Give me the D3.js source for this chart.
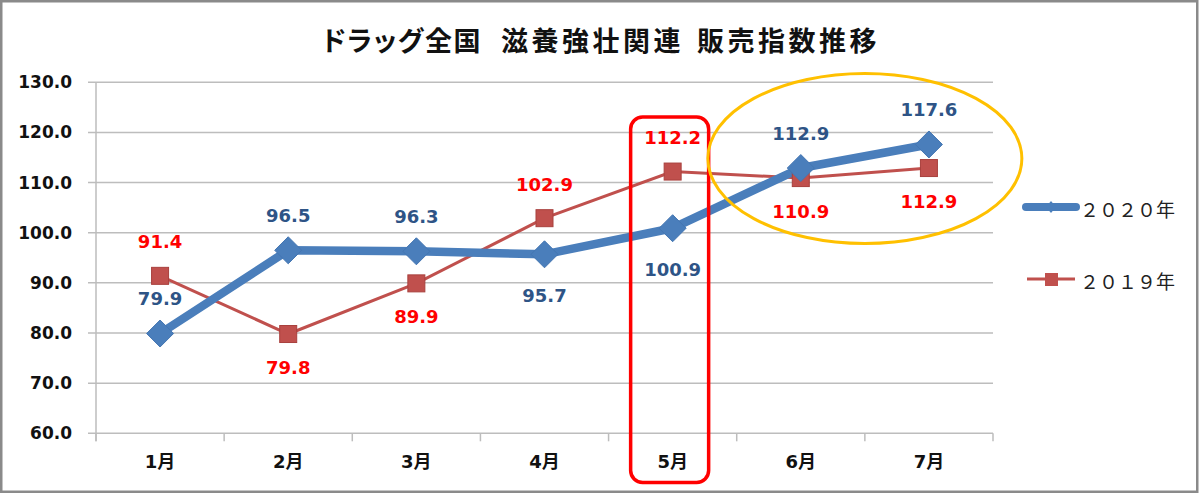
<!DOCTYPE html>
<html><head><meta charset="utf-8">
<script src="https://cdn.jsdelivr.net/npm/d3@7/dist/d3.min.js"></script>
<style>
html,body{margin:0;padding:0;background:#fff;}
svg{display:block;}
</style></head>
<body>
<svg id="chart" width="1200" height="494"></svg>
<script>
const categories = ["1月","2月","3月","4月","5月","6月","7月"];
const values2020 = [79.9, 96.5, 96.3, 95.7, 100.9, 112.9, 117.6];
const values2019 = [91.4, 79.8, 89.9, 102.9, 112.2, 110.9, 112.9];
const labelPos2020 = ["above","above","above","below","below","above","above"];
const labelPos2019 = ["above","below","below","above","above","below","below"];
const yTicks = [60, 70, 80, 90, 100, 110, 120, 130];
const seriesNames = ["２０２０年", "２０１９年"];
const titleParts = ["ドラッグ全国", "滋養強壮関連", "販売指数推移"];

const svg = d3.select("#chart");
const W = 1200, H = 494;
const m = {left: 96, right: 993, top: 82.3, bottom: 433.3};

const x = d3.scaleBand().domain(categories).range([m.left, m.right]);
const y = d3.scaleLinear().domain([60, 130]).range([m.bottom, m.top]);
const cx = c => x(c) + x.bandwidth() / 2;

const numFont = "'DejaVu Sans', 'Noto Sans CJK JP', sans-serif";
const cjkFont = "'Noto Sans CJK JP', sans-serif";

// outer frame
svg.append("rect").attr("x", 1.25).attr("y", 1.25).attr("width", W - 4).attr("height", H - 3.5)
  .attr("fill", "#fff").attr("stroke", "#8a8a8a").attr("stroke-width", 2.5);

// title
const title = svg.append("text").attr("x", 601).attr("y", 39)
  .attr("text-anchor", "middle").attr("dominant-baseline", "central")
  .style("font-family", cjkFont).style("font-weight", "bold").style("font-size", "27px")
  .attr("fill", "#111");
title.append("tspan").style("font-feature-settings", "'palt'").style("letter-spacing", "1.5px").text(titleParts[0]);
title.append("tspan").attr("dx", 19).style("letter-spacing", "3.5px").text(titleParts[1]);
title.append("tspan").attr("dx", 13).style("letter-spacing", "3.5px").text(titleParts[2]);

// gridlines
const gGrid = svg.append("g");
gGrid.selectAll("line").data(yTicks).join("line")
  .attr("x1", m.left - 8).attr("x2", m.right)
  .attr("y1", d => y(d)).attr("y2", d => y(d))
  .attr("stroke", "#bdbdbd").attr("stroke-width", 1.5);

// y axis
const yAxis = d3.axisLeft(y).tickValues(yTicks).tickFormat(d3.format(".1f")).tickSize(0).tickPadding(24);
const gy = svg.append("g").attr("transform", `translate(${m.left},0)`).call(yAxis);
gy.select(".domain").remove();
gy.selectAll("text").style("font-family", numFont).style("font-weight", "bold")
  .style("font-size", "17px").attr("fill", "#111");
svg.append("line").attr("x1", m.left).attr("x2", m.left).attr("y1", m.top).attr("y2", m.bottom + 8)
  .attr("stroke", "#bdbdbd").attr("stroke-width", 1.5);

// x axis
const xAxis = d3.axisBottom(x).tickSize(0).tickPadding(22);
const gx = svg.append("g").attr("transform", `translate(0,${m.bottom})`).call(xAxis);
gx.select(".domain").remove();
gx.selectAll("text").style("font-family", numFont).style("font-weight", "bold")
  .style("font-size", "18px").attr("fill", "#111");
const bounds = categories.map(c => x(c)).concat([m.right]);
svg.append("g").selectAll("line").data(bounds).join("line")
  .attr("x1", d => d).attr("x2", d => d).attr("y1", m.bottom).attr("y2", m.bottom + 8)
  .attr("stroke", "#bdbdbd").attr("stroke-width", 1.5);

const blue = "#4a7ebb", blueLabel = "#2e5486";
const red = "#c0504d", redLabel = "#ff0000";

const line = d3.line().x((d, i) => cx(categories[i])).y(d => y(d));

// 2019 series
svg.append("path").datum(values2019).attr("d", line)
  .attr("fill", "none").attr("stroke", red).attr("stroke-width", 3);
// 2020 series
svg.append("path").datum(values2020).attr("d", line)
  .attr("fill", "none").attr("stroke", blue).attr("stroke-width", 8.5).attr("stroke-linejoin", "round");

const sq = 17;
svg.append("g").selectAll("rect").data(values2019).join("rect")
  .attr("x", (d, i) => cx(categories[i]) - sq / 2).attr("y", d => y(d) - sq / 2)
  .attr("width", sq).attr("height", sq)
  .attr("fill", red).attr("stroke", "#a8403d").attr("stroke-width", 1);

const dm = 13.5;
svg.append("g").selectAll("path").data(values2020).join("path")
  .attr("d", (d, i) => {
    const px = cx(categories[i]), py = y(d);
    return `M${px},${py - dm}L${px + dm},${py}L${px},${py + dm}L${px - dm},${py}Z`;
  })
  .attr("fill", blue).attr("stroke", "#4476b2").attr("stroke-width", 1);

// data labels
svg.append("g").selectAll("text").data(values2019).join("text")
  .attr("x", (d, i) => cx(categories[i]))
  .attr("y", (d, i) => y(d) + (labelPos2019[i] === "above" ? -34 : 33))
  .attr("text-anchor", "middle").attr("dominant-baseline", "central")
  .style("font-family", numFont).style("font-weight", "bold").style("font-size", "18px")
  .attr("fill", redLabel).text(d => d.toFixed(1));

svg.append("g").selectAll("text").data(values2020).join("text")
  .attr("x", (d, i) => cx(categories[i]))
  .attr("y", (d, i) => y(d) + (labelPos2020[i] === "above" ? -35 : 41))
  .attr("text-anchor", "middle").attr("dominant-baseline", "central")
  .style("font-family", numFont).style("font-weight", "bold").style("font-size", "18px")
  .attr("fill", blueLabel).text(d => d.toFixed(1));

// annotations
const c5 = cx("5月");
svg.append("rect").attr("x", c5 - 42).attr("y", y(123.1))
  .attr("width", 78).attr("height", y(50.2) - y(123.1))
  .attr("rx", 12).attr("ry", 12)
  .attr("fill", "none").attr("stroke", "#ff0000").attr("stroke-width", 3.5);

svg.append("ellipse").attr("cx", (cx("6月") + cx("7月")) / 2).attr("cy", y(114.8))
  .attr("rx", 157).attr("ry", 85)
  .attr("fill", "none").attr("stroke", "#ffc000").attr("stroke-width", 3);

// legend
const lg = svg.append("g");
lg.append("line").attr("x1", 1026).attr("x2", 1076).attr("y1", 207).attr("y2", 207)
  .attr("stroke", blue).attr("stroke-width", 8).attr("stroke-linecap", "round");
lg.append("path").attr("d", "M1051,201L1056,207L1051,213L1046,207Z").attr("fill", blue);
lg.append("text").attr("x", 1080).attr("y", 208).attr("dominant-baseline", "central")
  .style("font-family", cjkFont).style("font-size", "19px").attr("fill", "#222").text(seriesNames[0]);

lg.append("line").attr("x1", 1027).attr("x2", 1075).attr("y1", 279).attr("y2", 279)
  .attr("stroke", red).attr("stroke-width", 3);
lg.append("rect").attr("x", 1045).attr("y", 273).attr("width", 13).attr("height", 13).attr("fill", red);
lg.append("text").attr("x", 1080).attr("y", 280).attr("dominant-baseline", "central")
  .style("font-family", cjkFont).style("font-size", "19px").attr("fill", "#222").text(seriesNames[1]);
</script>
</body></html>
